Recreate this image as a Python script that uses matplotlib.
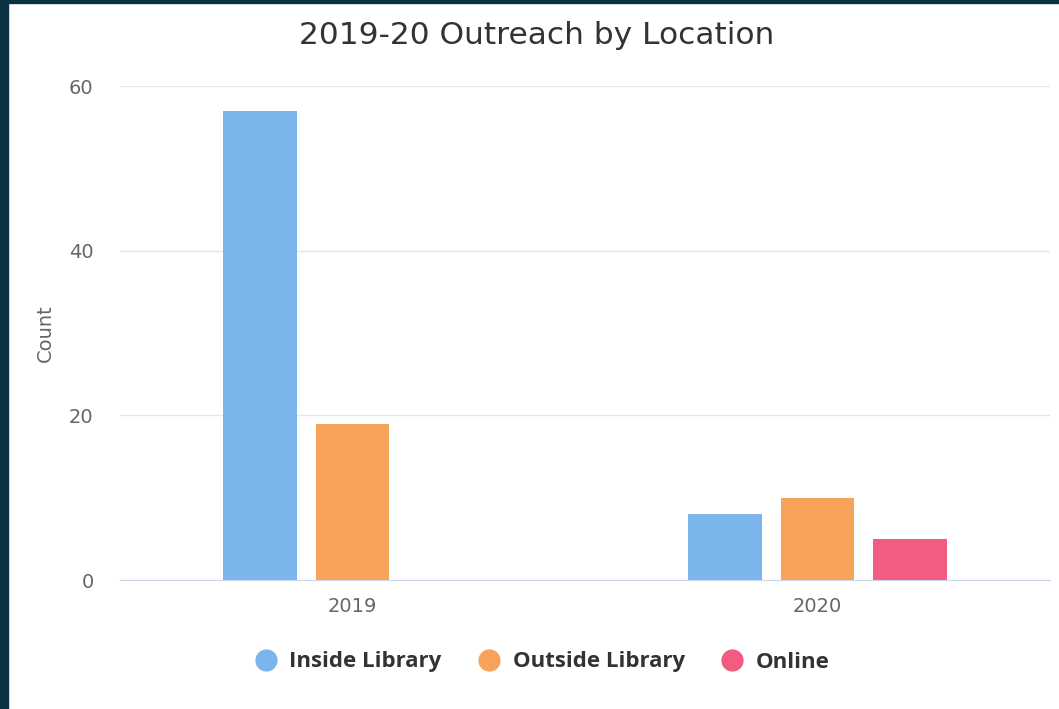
import matplotlib
matplotlib.use('Agg')
import matplotlib.pyplot as plt
from matplotlib.patches import Rectangle
from matplotlib.lines import Line2D
import numpy as np

plt.rcParams['font.family'] = ['DejaVu Sans']

years = ['2019', '2020']
series_names = ['Inside Library', 'Outside Library', 'Online']
inside_library = [57, 8]
outside_library = [19, 10]
online = [0, 5]
colors = ['#7cb5ec', '#f7a35c', '#f15c80']

fig = plt.figure(figsize=(10.59, 7.09), dpi=100)
fig.patch.set_facecolor('white')
# dark frame along the left and top edges
fig.patches.append(Rectangle((0, 0), 8 / 1059, 1, transform=fig.transFigure,
                             color='#0b3242', zorder=0))
fig.patches.append(Rectangle((0, 1 - 3 / 709), 1, 3 / 709, transform=fig.transFigure,
                             color='#0b3242', zorder=0))

ax = fig.add_axes([120 / 1059, 1 - 580 / 709, 930 / 1059, 494 / 709])

x = np.arange(len(years))
offset = 0.198
width = 0.159
values = [inside_library, outside_library, online]
for i, (name, vals, c) in enumerate(zip(series_names, values, colors)):
    ax.bar(x + (i - 1) * offset, vals, width=width, color=c, label=name, zorder=3)

ax.set_xlim(-0.5, 1.5)
ax.set_ylim(0, 60)
ax.set_yticks([0, 20, 40, 60])
ax.set_xticks(x)
ax.set_xticklabels(years)
ax.grid(axis='y', color='#e6e6e6', linewidth=1, zorder=0)
for s in ['top', 'right', 'left']:
    ax.spines[s].set_visible(False)
ax.spines['bottom'].set_color('#ccd6eb')
ax.spines['bottom'].set_zorder(4)
ax.tick_params(axis='y', length=0, pad=19, labelsize=14, labelcolor='#666666')
ax.tick_params(axis='x', length=0, pad=12, labelsize=14, labelcolor='#666666')
ax.set_ylabel('Count', fontsize=14, color='#666666', labelpad=10)

fig.text(537 / 1059, 1 - 36 / 709, '2019-20 Outreach by Location', ha='center', va='center',
         fontsize=22.5, color='#333333')

handles = [Line2D([], [], marker='o', linestyle='none', markersize=15, color=c)
           for c in colors]
leg = fig.legend(handles, series_names, loc='center', bbox_to_anchor=(0.512, 1 - 662 / 709),
                 ncol=3, frameon=False, handlelength=1.0, handletextpad=0.55,
                 columnspacing=1.65,
                 prop={'family': 'Open Sans', 'weight': 'bold', 'size': 16})
for t in leg.get_texts():
    t.set_color('#333333')

fig.savefig('out.png', dpi=100)
